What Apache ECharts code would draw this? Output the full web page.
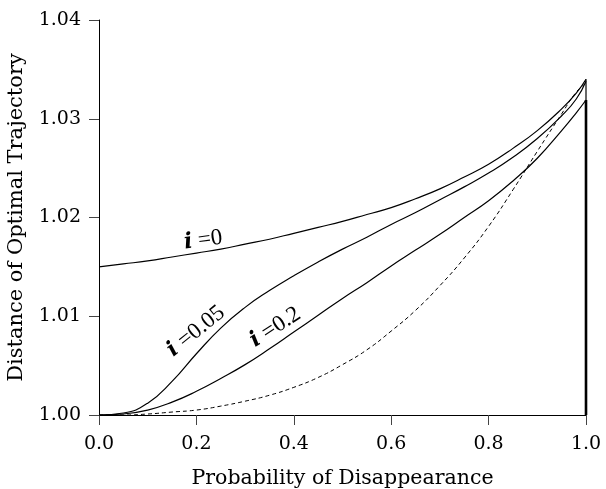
<!DOCTYPE html>
<html><head><meta charset="utf-8">
<script src="https://cdn.jsdelivr.net/npm/echarts@6/dist/echarts.min.js"></script>
<style>html,body{margin:0;padding:0;background:#fff}#c{width:606px;height:489px}</style>
</head><body><div id="c"></div>
<script>
const xs = [0, 0.05, 0.1, 0.15, 0.2, 0.25, 0.3, 0.35, 0.4, 0.45, 0.5, 0.55, 0.6, 0.65, 0.7, 0.75, 0.8, 0.85, 0.9, 0.95, 0.98, 1.0];
const iZero = [1.0150, 1.0153, 1.0156, 1.0160, 1.0164, 1.0168, 1.0173, 1.0178, 1.0184, 1.0190, 1.0196, 1.0203, 1.0210, 1.0219, 1.0229, 1.0241, 1.0254, 1.0270, 1.0288, 1.0310, 1.0326, 1.0340];
const iFive = [1.0000, 1.0002, 1.0012, 1.0034, 1.0062, 1.0088, 1.0109, 1.0126, 1.0141, 1.0155, 1.0168, 1.0180, 1.0193, 1.0205, 1.0218, 1.0231, 1.0245, 1.0261, 1.0280, 1.0303, 1.0320, 1.0338];
const iTwo = [1.0000, 1.0001, 1.0005, 1.0013, 1.0024, 1.0037, 1.0051, 1.0067, 1.0084, 1.0101, 1.0118, 1.0134, 1.0151, 1.0167, 1.0183, 1.0200, 1.0217, 1.0237, 1.0260, 1.0288, 1.0306, 1.0319];
const dashed = [1.0000, 1.0000, 1.0001, 1.0003, 1.0005, 1.0009, 1.0014, 1.0020, 1.0028, 1.0038, 1.0051, 1.0066, 1.0085, 1.0106, 1.0131, 1.0159, 1.0191, 1.0228, 1.0267, 1.0305, 1.0327, 1.0336];
const edgeX = [1, 1];
const edgeThin = [1.0340, 1.0000];
const edgeThick = [1.0319, 1.0000];
const yTicks = ['1.00', '1.01', '1.02', '1.03', '1.04'];
const xTicks = ['0.0', '0.2', '0.4', '0.6', '0.8', '1.0'];
const labels = [
  {num: '0', x: 0.214, y: 1.0177, rot: 8},
  {num: '0.05', x: 0.199, y: 1.00847, rot: 39},
  {num: '0.2', x: 0.362, y: 1.00888, rot: 33}
];

const pair = (a, b) => a.map((v, k) => [v, b[k]]);
const F = 'DejaVu Serif';
const chart = echarts.init(document.getElementById('c'), null, {renderer: 'canvas'});
const lineStyle = {color: '#000', width: 1.2};
const base = {type: 'line', showSymbol: false, symbol: 'none', smooth: 0.5, animation: false, silent: true};
chart.setOption({
  animation: false,
  backgroundColor: '#fff',
  grid: {left: 99, right: 20, top: 20, bottom: 74, containLabel: false, outerBoundsMode: 'none'},
  xAxis: {
    type: 'value', min: 0, max: 1, interval: 0.2,
    name: 'Probability of Disappearance', nameLocation: 'middle', nameGap: 53,
    nameTextStyle: {fontFamily: F, fontSize: 20.5, color: '#000'},
    axisLine: {show: true, lineStyle: {color: '#000', width: 1}},
    axisTick: {show: true, inside: false, length: 10, lineStyle: {color: '#444'}},
    axisLabel: {margin: 20, fontFamily: F, fontSize: 19, color: '#000', formatter: (v) => xTicks[Math.round(v / 0.2)]},
    splitLine: {show: false}
  },
  yAxis: {
    type: 'value', min: 1.0, max: 1.04, interval: 0.01,
    name: 'Distance of Optimal Trajectory', nameLocation: 'middle', nameGap: 72,
    nameTextStyle: {fontFamily: F, fontSize: 21, color: '#000'},
    axisLine: {show: true, lineStyle: {color: '#000', width: 1}},
    axisTick: {show: true, inside: false, length: 10, lineStyle: {color: '#444'}},
    axisLabel: {margin: 18, fontFamily: F, fontSize: 19, color: '#000', formatter: (v) => yTicks[Math.round((v - 1) / 0.01)]},
    splitLine: {show: false}
  },
  series: [
    Object.assign({}, base, {name: 'i=0', data: pair(xs, iZero), lineStyle}),
    Object.assign({}, base, {name: 'i=0.05', data: pair(xs, iFive), lineStyle}),
    Object.assign({}, base, {name: 'i=0.2', data: pair(xs, iTwo), lineStyle}),
    Object.assign({}, base, {name: 'dashed', data: pair(xs, dashed), lineStyle: {color: '#000', width: 1, type: [4, 3]}}),
    Object.assign({}, base, {name: 'edge1', smooth: false, data: pair(edgeX, edgeThin), lineStyle: {color: '#000', width: 1.2}}),
    Object.assign({}, base, {name: 'edge2', smooth: false, data: pair(edgeX, edgeThick), lineStyle: {color: '#000', width: 2.6}})
  ]
});
const g = labels.map(l => {
  const p = chart.convertToPixel({gridIndex: 0}, [l.x, l.y]);
  return {
    type: 'text', x: p[0], y: p[1], rotation: l.rot * Math.PI / 180,
    style: {
      text: '{a|i}{b| =' + l.num + '}',
      align: 'center', verticalAlign: 'middle',
      rich: {
        a: {fontFamily: 'DejaVu Serif', fontStyle: 'italic', fontWeight: 'bold', fontSize: 22, fill: '#000'},
        b: {fontFamily: 'Liberation Serif', fontSize: 23, fill: '#000'}
      }
    }
  };
});
chart.setOption({graphic: g});
</script></body></html>
